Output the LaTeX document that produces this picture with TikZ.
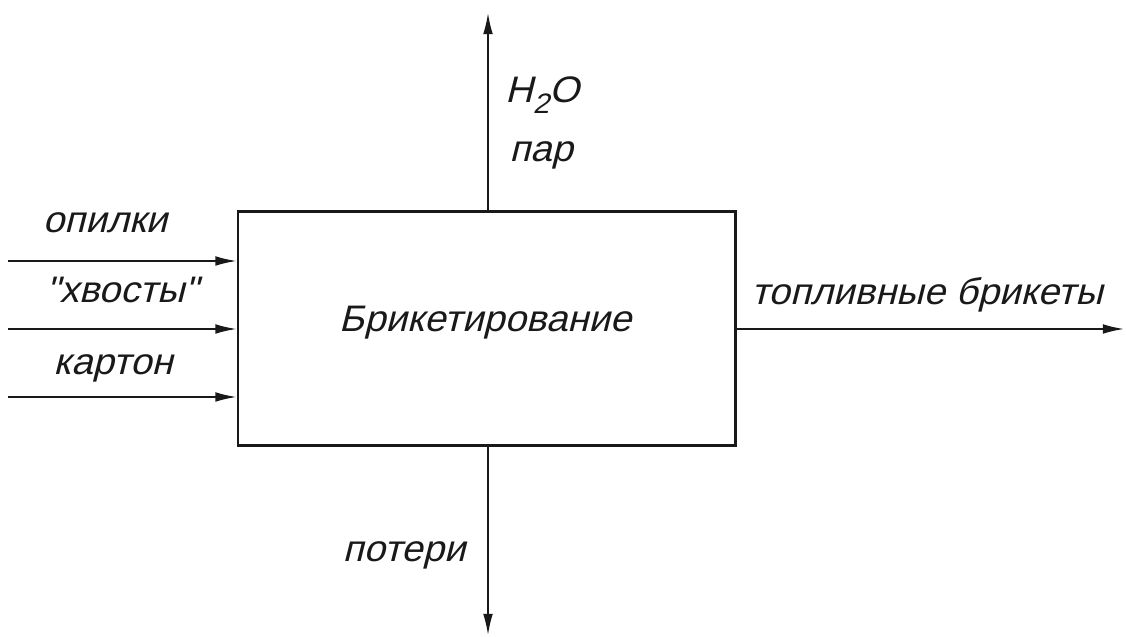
\documentclass[tikz,border=0pt]{standalone}
\usepackage{fontspec}
\usepackage{xcolor}
\usepackage{tikz}
\usetikzlibrary{arrows.meta}
\newfontfamily\gostfont{Liberation Sans}[FakeStretch=1.04,FakeSlant=0.25]
\definecolor{figline}{RGB}{25,25,25}
\tikzset{
  blk/.style ={draw=figline, line width=1.7pt, minimum width=9.94cm, minimum height=4.68cm, inner sep=0pt},
  flw/.style ={draw=figline, line width=0.9pt, -{Latex[length=12pt,width=5.5pt]}},
  lab/.style ={font=\gostfont\fontsize{21}{24}\selectfont, text=figline, inner sep=1pt, anchor=base},
}

\begin{document}
\begin{tikzpicture}[scale=1]
  \useasboundingbox (0,0) rectangle (22.52,12.74);
  \node[blk] (br) at (9.73,6.16) {};
  \node[lab] (brl) at (9.70,6.10) {Брикетирование};
  % inputs
  \coordinate (i1) at (0.16,7.52);
  \coordinate (i2) at (0.16,6.16);
  \coordinate (i3) at (0.16,4.80);
  \draw[flw] (i1) -- (i1 -| br.west);
  \draw[flw] (i2) -- (i2 -| br.west);
  \draw[flw] (i3) -- (i3 -| br.west);
  \node[lab] (l1) at (2.10,8.08) {опилки};
  \node[lab] (l2) at (2.44,6.68) {"хвосты"};
  \node[lab] (l3) at (2.26,5.24) {картон};
  % output
  \coordinate (o1) at (22.48,6.16);
  \draw[flw] (br.east |- o1) -- (o1);
  \node[lab] (lo) at (18.54,6.64) {топливные брикеты};
  % top and bottom
  \coordinate (u1) at (9.76,12.48);
  \coordinate (d1) at (9.76,0.04);
  \draw[flw] (br.north -| u1) -- (u1);
  \draw[flw] (br.south -| d1) -- (d1);
  \node[lab] (lu1) at (10.84,10.68) {H\raisebox{-0.55ex}{\fontsize{16}{16}\selectfont 2}O};
  \node[lab] (lu2) at (10.82,9.50) {пар};
  \node[lab] (ld) at (8.08,1.50) {потери};
\end{tikzpicture}
\end{document}
